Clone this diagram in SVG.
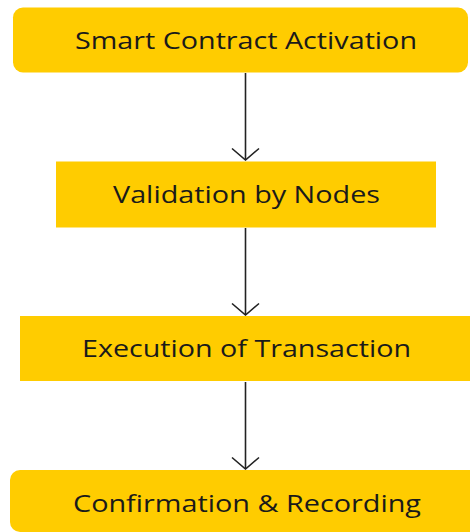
<svg xmlns="http://www.w3.org/2000/svg" width="470" height="532" viewBox="0 0 470 532">
<defs>
<style>
.box{fill:#FFCC00;}
.lbl{font-family:"Open Sans","Liberation Sans",sans-serif;font-size:24.5px;fill:#1a1a1a;text-anchor:middle;}
.edge{stroke:#222;stroke-width:1.6;fill:none;}
</style>
<marker id="arr" viewBox="0 0 14 30" refX="13" refY="15" markerWidth="14" markerHeight="30" markerUnits="userSpaceOnUse" orient="auto">
<path d="M1.5,1.5 L13,15 L1.5,28.5" fill="none" stroke="#222" stroke-width="1.6"/>
</marker>
</defs>
<rect width="470" height="532" fill="#fff"/>
<g id="connectors">
<line class="edge" x1="245.5" y1="73" x2="245.5" y2="160" marker-end="url(#arr)"/>
<line class="edge" x1="245.5" y1="228" x2="245.5" y2="315" marker-end="url(#arr)"/>
<line class="edge" x1="245.5" y1="382" x2="245.5" y2="469" marker-end="url(#arr)"/>
</g>
<g id="n1">
<rect class="box" x="13" y="7.5" width="455" height="65" rx="10"/>
<text class="lbl" x="246" y="49" textLength="342" lengthAdjust="spacingAndGlyphs">Smart Contract Activation</text>
</g>
<g id="n2">
<rect class="box" x="56" y="161.5" width="380" height="66"/>
<text class="lbl" x="246.5" y="203" textLength="267" lengthAdjust="spacingAndGlyphs">Validation by Nodes</text>
</g>
<g id="n3">
<rect class="box" x="20" y="316" width="460" height="65"/>
<text class="lbl" x="246.5" y="357" textLength="329" lengthAdjust="spacingAndGlyphs">Execution of Transaction</text>
</g>
<g id="n4">
<rect class="box" x="10" y="470" width="470" height="62" rx="10"/>
<text class="lbl" x="247" y="512" textLength="348" lengthAdjust="spacingAndGlyphs">Confirmation &amp; Recording</text>
</g>
</svg>
